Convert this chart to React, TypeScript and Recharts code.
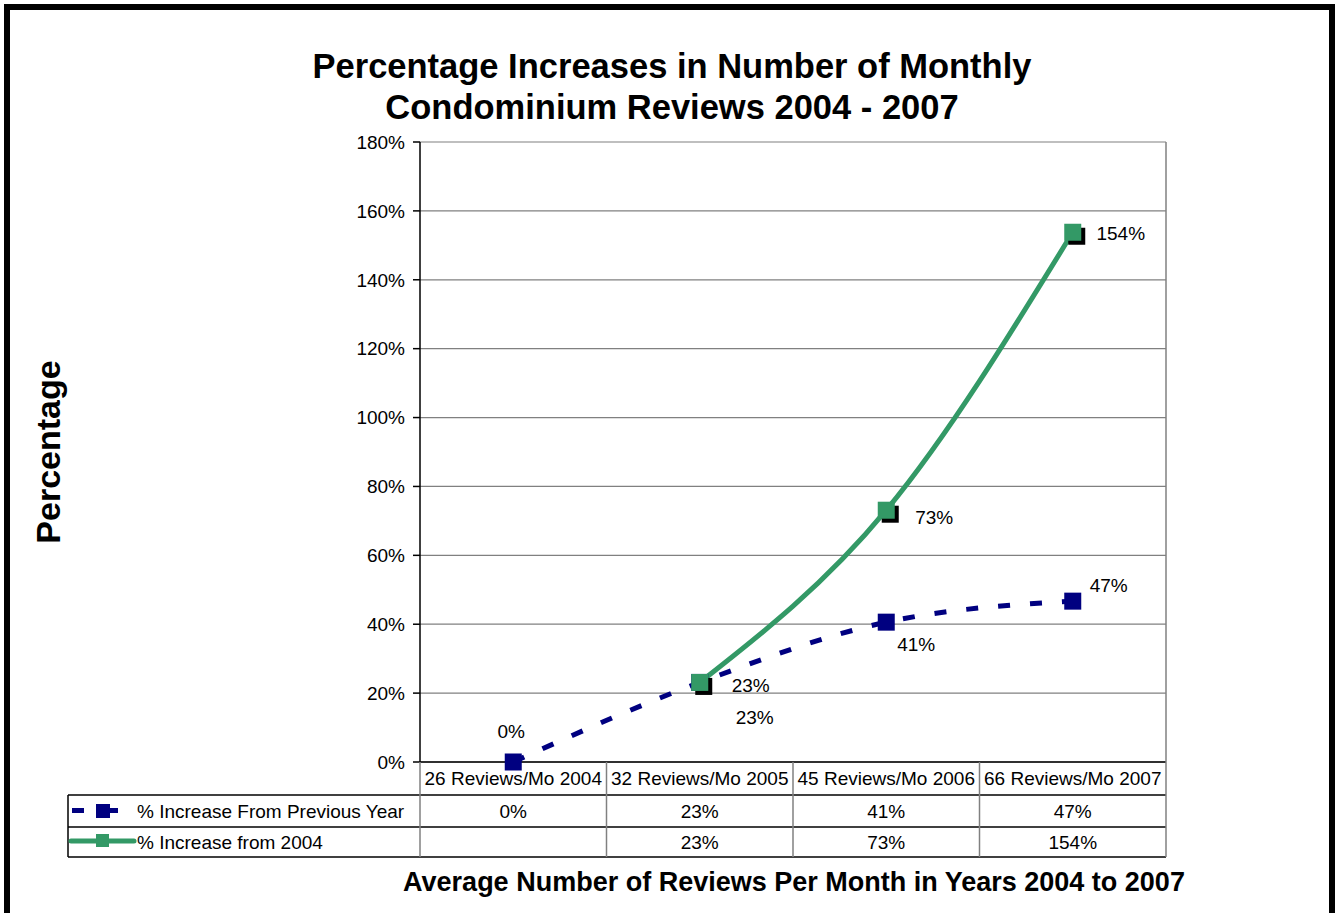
import { CartesianGrid, LabelList, Line, LineChart, XAxis, YAxis } from 'recharts';

const categories = [
	'26 Reviews/Mo 2004',
	'32 Reviews/Mo 2005',
	'45 Reviews/Mo 2006',
	'66 Reviews/Mo 2007',
];
const fromPreviousYear = [0, 23.1, 40.6, 46.7];
const from2004 = [null, 23.1, 73.1, 153.8];
const yTicks = [0, 20, 40, 60, 80, 100, 120, 140, 160, 180];
const seriesNames = ['% Increase From Previous Year', '% Increase from 2004'];

const data = categories.map((cat, i) => ({
	cat,
	prev: fromPreviousYear[i],
	base: from2004[i],
}));

const W = 1335;
const H = 913;
const PLOT_LEFT = 420;
const PLOT_RIGHT = 1166;
const PLOT_TOP = 142;
const PLOT_BOTTOM = 762;
const COL_W = (PLOT_RIGHT - PLOT_LEFT) / categories.length;
const FONT = '"Liberation Sans", Arial, sans-serif';
const NAVY = '#000080';
const GREEN = '#339966';

// label offsets from each point (label centre)
const prevLabelPos = [
	[-2, -31],
	[55, 35],
	[30, 22],
	[36, -16],
];
const baseLabelPos = [
	[0, 0],
	[51, 3],
	[48, 7],
	[48, 1],
];

const pct = (v: number | null) => (v == null ? '' : `${Math.round(v)}%`);

function squareDot(color: string, shadow: boolean) {
	return (props: any) => {
		const { cx, cy, value, index } = props;
		if (value == null || cx == null || cy == null) return <g key={`d-${index}`} />;
		const s = 17;
		return (
			<g key={`d-${index}`}>
				{shadow && <rect x={cx - s / 2 + 4} y={cy - s / 2 + 4} width={s} height={s} fill="#000" />}
				<rect x={cx - s / 2} y={cy - s / 2} width={s} height={s} fill={color} />
			</g>
		);
	};
}

function pointLabel(offsets: number[][]) {
	return (props: any) => {
		const { x, y, value, index } = props;
		if (value == null) return null;
		const [dx, dy] = offsets[index];
		return (
			<text
				x={x + dx}
				y={y + dy}
				textAnchor="middle"
				dominantBaseline="central"
				fontSize={19}
				fontFamily={FONT}
				fill="#000"
			>
				{pct(value)}
			</text>
		);
	};
}

function CategoryTick({ x, payload }: any) {
	return (
		<text x={x} y={PLOT_BOTTOM + 23} textAnchor="middle" fontSize={19} fontFamily={FONT} fill="#000">
			{payload.value}
		</text>
	);
}

function Overlay() {
	const rowTop = PLOT_BOTTOM + 33;
	const rowMid = rowTop + 32;
	const rowBottom = rowMid + 30;
	const tableLeft = 68;
	const cols = categories.map((_, i) => PLOT_LEFT + i * COL_W);
	const txt = { fontFamily: FONT, fill: '#000' };
	return (
		<svg width={W} height={H} style={{ position: 'absolute', left: 0, top: 0, pointerEvents: 'none' }}>
			<rect x={7} y={7} width={1325} height={930} fill="none" stroke="#000" strokeWidth={6} />

			<text x={672} y={78} textAnchor="middle" fontSize={34.5} fontWeight="bold" {...txt}>
				Percentage Increases in Number of Monthly
			</text>
			<text x={672} y={119} textAnchor="middle" fontSize={34.5} fontWeight="bold" {...txt}>
				Condominium Reviews 2004 - 2007
			</text>
			<text
				x={0}
				y={0}
				transform="translate(60 452) rotate(-90)"
				textAnchor="middle"
				fontSize={34}
				fontWeight="bold"
				{...txt}
			>
				Percentage
			</text>
			<text x={794} y={891} textAnchor="middle" fontSize={27} fontWeight="bold" {...txt}>
				Average Number of Reviews Per Month in Years 2004 to 2007
			</text>

			{/* plot area right border */}
			<line x1={PLOT_RIGHT} y1={PLOT_TOP} x2={PLOT_RIGHT} y2={PLOT_BOTTOM} stroke="#808080" strokeWidth={1.5} />

			{/* data table */}
			<line x1={tableLeft} y1={rowTop} x2={PLOT_RIGHT} y2={rowTop} stroke="#000" strokeWidth={1.5} />
			<line x1={tableLeft} y1={rowMid} x2={PLOT_RIGHT} y2={rowMid} stroke="#000" strokeWidth={1.5} />
			<line x1={tableLeft} y1={rowBottom} x2={PLOT_RIGHT} y2={rowBottom} stroke="#000" strokeWidth={1.5} />
			<line x1={tableLeft} y1={rowTop} x2={tableLeft} y2={rowBottom} stroke="#000" strokeWidth={1.5} />
			{[...cols, PLOT_RIGHT].map((cx, i) => (
				<line key={i} x1={cx} y1={PLOT_BOTTOM} x2={cx} y2={rowBottom} stroke="#808080" strokeWidth={1.5} />
			))}

			{/* legend keys */}
			<rect x={72} y={rowTop + 13} width={12} height={5} fill={NAVY} />
			<rect x={96} y={rowTop + 9} width={14} height={14} fill={NAVY} />
			<rect x={110} y={rowTop + 13} width={8} height={5} fill={NAVY} />
			<line x1={71} y1={rowMid + 14} x2={134} y2={rowMid + 14} stroke={GREEN} strokeWidth={5} strokeLinecap="round" />
			<rect x={96} y={rowMid + 7} width={13} height={13} fill={GREEN} />

			<text x={137} y={rowTop + 23} fontSize={19} {...txt}>
				{seriesNames[0]}
			</text>
			<text x={137} y={rowMid + 22} fontSize={19} {...txt}>
				{seriesNames[1]}
			</text>
			{categories.map((_, i) => (
				<g key={i}>
					<text x={cols[i] + COL_W / 2} y={rowTop + 23} textAnchor="middle" fontSize={19} {...txt}>
						{pct(fromPreviousYear[i])}
					</text>
					<text x={cols[i] + COL_W / 2} y={rowMid + 22} textAnchor="middle" fontSize={19} {...txt}>
						{pct(from2004[i])}
					</text>
				</g>
			))}
		</svg>
	);
}

export default function App() {
	return (
		<div
			style={{
				position: 'absolute',
				left: 0,
				top: 0,
				width: W,
				height: H,
				overflow: 'hidden',
				background: '#fff',
			}}
		>
			<LineChart
				width={W}
				height={H}
				data={data}
				margin={{ top: PLOT_TOP, right: W - PLOT_RIGHT, bottom: H - PLOT_BOTTOM - 34, left: PLOT_LEFT - 70 }}
			>
				<CartesianGrid vertical={false} stroke="#808080" strokeWidth={1.2} />
				<XAxis
					dataKey="cat"
					height={34}
					interval={0}
					padding={{ left: COL_W / 2, right: COL_W / 2 }}
					axisLine={{ stroke: '#000', strokeWidth: 1.5 }}
					tickLine={false}
					tick={<CategoryTick />}
				/>
				<YAxis
					width={70}
					domain={[0, 180]}
					ticks={yTicks}
					interval={0}
					tickFormatter={(v: number) => `${v}%`}
					tickSize={7}
					tickMargin={8}
					axisLine={{ stroke: '#000', strokeWidth: 1.5 }}
					tickLine={{ stroke: '#000', strokeWidth: 1.5 }}
					tick={{ fill: '#000', fontSize: 19, fontFamily: FONT }}
				/>
				<Line
					dataKey="prev"
					type="monotone"
					stroke={NAVY}
					strokeWidth={5}
					strokeDasharray="12 20"
					dot={squareDot(NAVY, false)}
					activeDot={false}
					isAnimationActive={false}
				>
					<LabelList dataKey="prev" content={pointLabel(prevLabelPos)} />
				</Line>
				<Line
					dataKey="base"
					type="monotone"
					stroke={GREEN}
					strokeWidth={5}
					dot={squareDot(GREEN, true)}
					activeDot={false}
					isAnimationActive={false}
				>
					<LabelList dataKey="base" content={pointLabel(baseLabelPos)} />
				</Line>
			</LineChart>
			<Overlay />
		</div>
	);
}
